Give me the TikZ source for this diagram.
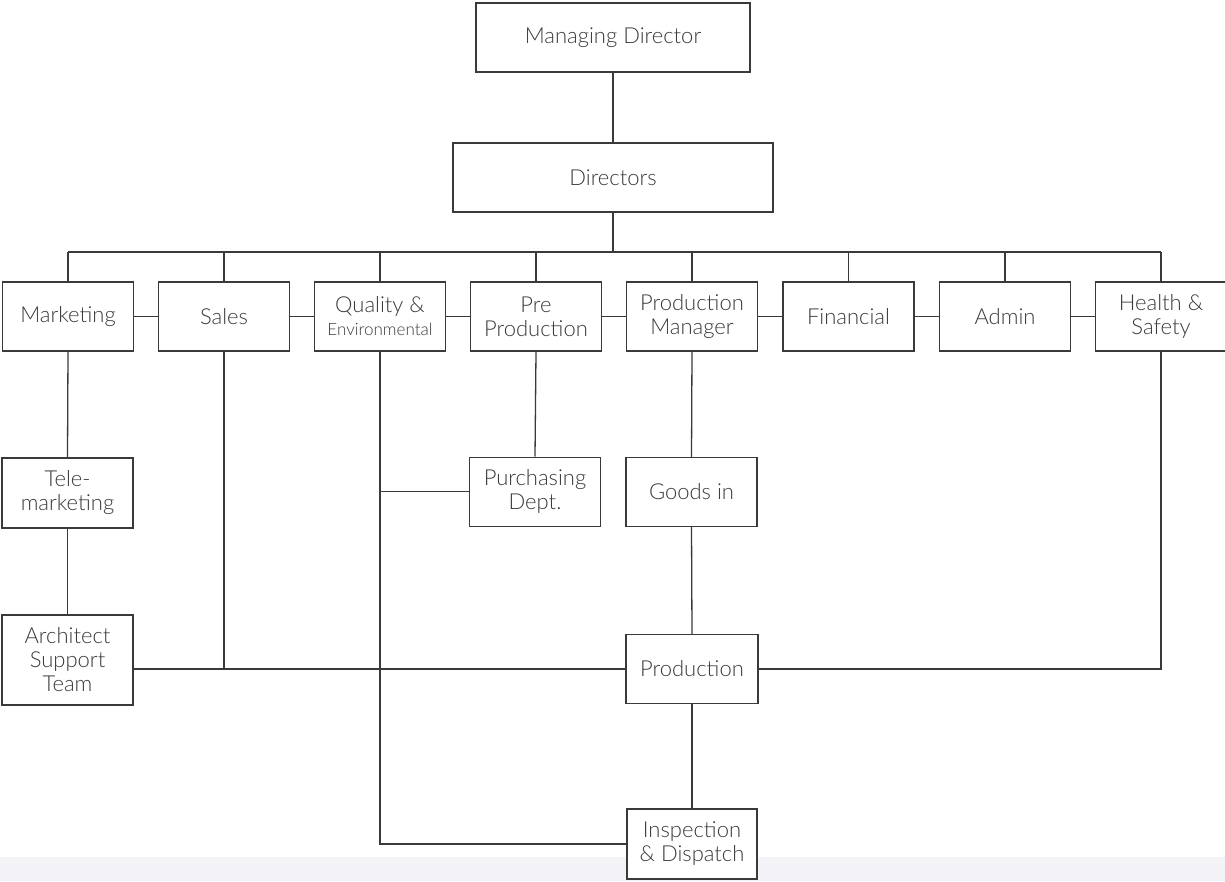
\documentclass[tikz,border=0pt]{standalone}
\usepackage{fontspec}
\setmainfont{Lato}[Extension=.ttf,UprightFont=*-Light,BoldFont=*-Regular]
\definecolor{linec}{HTML}{3A3A3A}
\definecolor{textc}{HTML}{3A3A3A}
\definecolor{band}{HTML}{F3F3F7}
\begin{document}
\begin{tikzpicture}[x=1pt,y=-1pt,
  box/.style={draw=linec,line width=1.3pt,fill=white,rectangle,inner sep=0pt,
    align=center,text=textc,font=\fontsize{22}{24}\selectfont},
  rowbox/.style={box,minimum width=131pt,minimum height=69pt},
  conn/.style={draw=linec,line width=1.3pt}]
\useasboundingbox (0,0) rectangle (1225,881);
\fill[band] (0,857) rectangle (1225,881);
% top
\node[box,minimum width=274pt,minimum height=69pt] (md) at (613,37.5) {Managing Director};
\node[box,minimum width=320pt,minimum height=69pt] (dir) at (613,177.5) {Directors};
% row
\node[rowbox] (mkt) at (68,316.5) {Marketing};
\node[rowbox] (sales) at (224,316.5) {Sales};
\node[rowbox] (qual) at (380,316.5) {Quality \&\\[-1pt]{\fontsize{17}{20}\selectfont Environmental}};
\node[rowbox] (pre) at (536,316.5) {Pre\\Production};
\node[rowbox] (pm) at (692,316.5) {Production\\Manager};
\node[rowbox] (fin) at (848.5,316.5) {Financial};
\node[rowbox] (adm) at (1005,316.5) {Admin};
\node[rowbox] (hs) at (1161,316.5) {Health \&\\Safety};
% second level
\node[rowbox,minimum height=70pt] (tele) at (67.5,493) {Tele-\\marketing};
\node[rowbox] (purch) at (535,491.7) {Purchasing\\Dept.};
\node[rowbox] (goods) at (691.5,492) {Goods in};
\node[rowbox,minimum height=90pt] (arch) at (67.5,660) {Architect\\Support\\Team};
\node[rowbox,minimum width=132pt] (prod) at (692,669) {Production};
\node[rowbox,minimum width=130pt,minimum height=70pt] (insp) at (692,844) {Inspection\\\& Dispatch};
\coordinate (bus) at (0,252);
% connectors
\draw[conn] (md.south) -- (dir.north);
\draw[conn] (dir.south) -- (dir.south |- bus);
\draw[conn] (mkt.north |- bus) -- (hs.north |- bus);
\foreach \n in {mkt,sales,qual,pre,pm,fin,adm,hs}
  \draw[conn] (\n.north) -- (\n.north |- bus);
\draw[conn] (mkt.east) -- (sales.west);
\draw[conn] (sales.east) -- (qual.west);
\draw[conn] (qual.east) -- (pre.west);
\draw[conn] (pre.east) -- (pm.west);
\draw[conn] (pm.east) -- (fin.west);
\draw[conn] (fin.east) -- (adm.west);
\draw[conn] (adm.east) -- (hs.west);
\draw[conn] (mkt.south) -- (tele.north);
\draw[conn] (tele.south) -- (arch.north);
\draw[conn] (arch.east |- prod.west) -- (prod.west);
\draw[conn] (sales.south) -- (sales.south |- prod.west);
\draw[conn] (qual.south) -- (qual.south |- insp.west) -- (insp.west);
\draw[conn] (qual.south |- purch.west) -- (purch.west);
\draw[conn] (pre.south) -- (purch.north);
\draw[conn] (pm.south) -- (goods.north);
\draw[conn] (goods.south) -- (prod.north);
\draw[conn] (prod.south) -- (insp.north);
\draw[conn] (hs.south) -- (hs.south |- prod.east) -- (prod.east);
\end{tikzpicture}
\end{document}
